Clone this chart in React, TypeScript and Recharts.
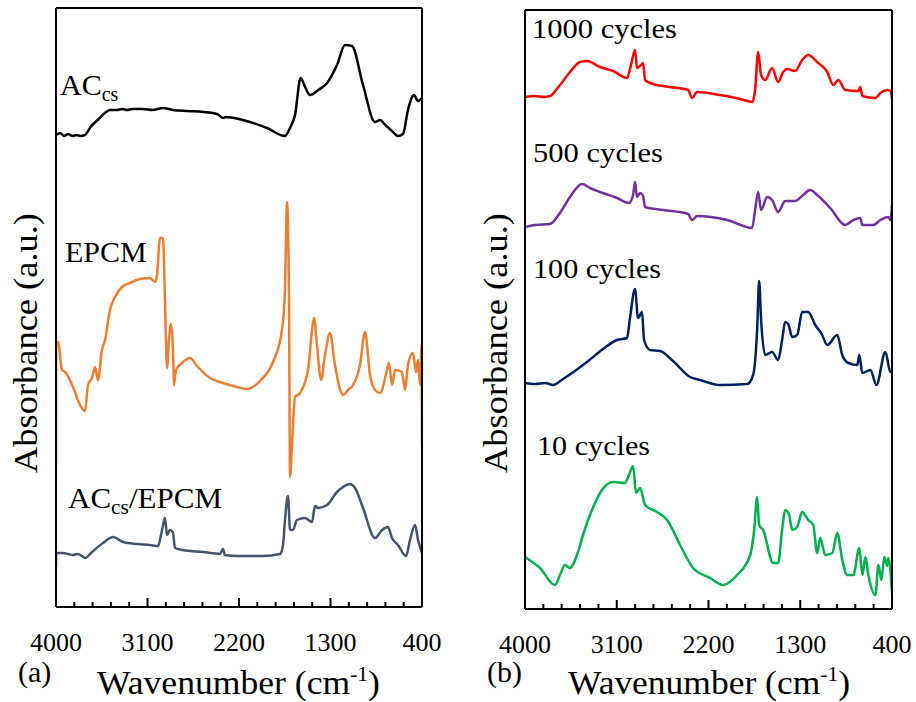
import { LineChart, Line, XAxis, YAxis, ReferenceLine } from "recharts";

type Pt = [number, number];

const serif = "'Times New Roman', 'Liberation Serif', 'DejaVu Serif', 'Noto Serif', serif";

const majorTicks = [4000, 3100, 2200, 1300, 400];
const minorTicks = [4000, 3820, 3640, 3460, 3280, 3100, 2920, 2740, 2560, 2380, 2200, 2020, 1840, 1660, 1480, 1300, 1120, 940, 760, 580, 400];

// panel (a) — wavenumber, absorbance (offset, a.u.)
const accs: Pt[] = [
  [4000, 472], [3960, 474], [3920, 471], [3880, 473], [3840, 471], [3800, 472], [3760, 471], [3715, 472],
  [3660, 480], [3580, 488], [3520, 494], [3469, 497], [3400, 497], [3350, 498], [3300, 497], [3250, 498],
  [3150, 498], [3050, 497], [2948, 499], [2850, 497], [2700, 496], [2550, 495], [2416, 493], [2357, 489],
  [2330, 490], [2200, 488], [2092, 485], [1925, 479], [1748, 471], [1698, 479], [1649, 492], [1594, 529],
  [1550, 520], [1502, 512], [1420, 517], [1334, 524], [1236, 542], [1157, 562], [1089, 561], [980, 522],
  [862, 485], [813, 487], [760, 482], [685, 475], [636, 471], [587, 473], [538, 497], [479, 512],
  [439, 506], [400, 509],
];

const epcm: Pt[] = [
  [4000, 127], [3998, 265], [3980, 265], [3941, 237], [3911, 235], [3833, 220], [3764, 202], [3715, 196],
  [3685, 222], [3646, 229], [3616, 240], [3587, 227], [3548, 257], [3518, 267], [3469, 297], [3420, 310],
  [3351, 320], [3272, 324], [3174, 328], [3075, 329], [3026, 325], [3006, 332], [2977, 369], [2948, 369],
  [2928, 307], [2908, 239], [2889, 267], [2869, 283], [2849, 257], [2839, 222], [2820, 237], [2761, 244],
  [2682, 249], [2613, 241], [2485, 229], [2357, 224], [2220, 220], [2121, 218], [1994, 226], [1866, 245],
  [1777, 277], [1748, 317], [1728, 405], [1708, 307], [1698, 130], [1680, 160], [1649, 210], [1600, 214],
  [1521, 237], [1482, 277], [1462, 289], [1433, 262], [1393, 227], [1354, 252], [1305, 274], [1256, 242],
  [1177, 212], [1128, 217], [1079, 222], [1010, 242], [961, 275], [911, 232], [862, 217], [813, 214],
  [744, 237], [725, 244], [695, 222], [665, 237], [597, 235], [567, 217], [538, 242], [489, 254],
  [459, 235], [439, 247], [420, 222], [404, 262], [400, 160],
];

const accsEpcm: Pt[] = [
  [4000, 40], [3998, 54], [3931, 54], [3880, 53], [3833, 52], [3790, 53], [3744, 51], [3715, 49],
  [3646, 55], [3538, 64], [3439, 70], [3341, 65], [3203, 63], [3075, 62], [2997, 61], [2957, 77],
  [2928, 89], [2908, 72], [2879, 77], [2849, 74], [2830, 59], [2751, 57], [2554, 55], [2387, 53],
  [2357, 58], [2338, 52], [2220, 51], [1964, 51], [1797, 53], [1767, 62], [1748, 87], [1718, 111],
  [1698, 77], [1669, 77], [1630, 87], [1551, 89], [1482, 85], [1452, 101], [1423, 99], [1334, 102],
  [1236, 115], [1177, 120], [1108, 123], [1059, 119], [980, 99], [862, 69], [793, 77], [734, 80],
  [695, 69], [636, 62], [557, 51], [518, 67], [469, 82], [439, 67], [400, 54],
];

// panel (b)
const cyc1000: Pt[] = [
  [4000, 512], [3900, 513], [3820, 512], [3755, 513], [3657, 524], [3559, 537], [3460, 547], [3392, 548],
  [3264, 542], [3137, 538], [2999, 531], [2960, 544], [2921, 559], [2901, 541], [2862, 544], [2842, 546],
  [2822, 529], [2744, 525], [2577, 522], [2400, 519], [2361, 511], [2312, 517], [2086, 514], [1889, 510],
  [1772, 507], [1743, 519], [1713, 557], [1684, 534], [1644, 529], [1576, 541], [1517, 527], [1468, 537],
  [1428, 540], [1350, 538], [1281, 549], [1222, 554], [1134, 547], [1035, 537], [976, 524], [927, 529],
  [858, 519], [730, 518], [711, 522], [691, 513], [563, 511], [514, 516], [446, 519], [416, 518], [400, 511],
];

const cyc500: Pt[] = [
  [4000, 382], [3900, 384], [3755, 385], [3657, 396], [3559, 412], [3441, 425], [3362, 421], [3235, 416],
  [3098, 411], [2980, 406], [2940, 414], [2921, 427], [2901, 412], [2872, 416], [2842, 413], [2822, 402],
  [2646, 399], [2400, 395], [2361, 389], [2312, 393], [2017, 389], [1772, 381], [1743, 399], [1713, 417],
  [1684, 399], [1625, 412], [1576, 409], [1517, 397], [1448, 408], [1350, 408], [1271, 414], [1203, 419],
  [1134, 414], [1006, 401], [858, 384], [779, 389], [711, 391], [691, 384], [583, 384], [514, 389],
  [436, 392], [416, 389], [400, 404],
];

const cyc100: Pt[] = [
  [4000, 226], [3900, 225], [3800, 226], [3725, 224], [3627, 230], [3510, 238], [3392, 247], [3235, 260],
  [3098, 269], [2999, 271], [2970, 291], [2921, 320], [2891, 291], [2852, 297], [2832, 269], [2773, 259],
  [2675, 258], [2548, 248], [2381, 232], [2282, 229], [2086, 224], [1821, 225], [1762, 234], [1723, 279],
  [1703, 328], [1684, 289], [1644, 254], [1576, 257], [1517, 249], [1478, 269], [1448, 287], [1419, 285],
  [1379, 272], [1330, 274], [1281, 297], [1222, 297], [1153, 284], [1085, 274], [1035, 264], [937, 274],
  [888, 254], [829, 246], [740, 244], [721, 254], [691, 236], [612, 239], [553, 224], [465, 257], [416, 237], [400, 237],
];

const cyc10: Pt[] = [
  [4000, 52], [3853, 41], [3706, 24], [3657, 34], [3608, 44], [3559, 41], [3490, 54], [3431, 74],
  [3343, 99], [3245, 119], [3137, 127], [3019, 126], [2980, 134], [2940, 143], [2911, 116], [2872, 121],
  [2822, 104], [2704, 97], [2606, 89], [2479, 64], [2351, 41], [2184, 31], [2057, 24], [1919, 34],
  [1791, 54], [1752, 79], [1723, 112], [1703, 84], [1664, 79], [1566, 46], [1517, 46], [1478, 79],
  [1448, 99], [1409, 94], [1379, 79], [1330, 82], [1281, 97], [1222, 89], [1173, 84], [1134, 56],
  [1104, 71], [1055, 54], [986, 56], [937, 76], [888, 49], [839, 34], [779, 34], [721, 61],
  [691, 34], [661, 52], [632, 34], [563, 14], [534, 44], [504, 29], [475, 52], [446, 43], [436, 51], [400, 16],
];

type Series = { name: string; color: string; pts: Pt[] };

const panelA: Series[] = [
  { name: "ACcs", color: "#000000", pts: accs },
  { name: "EPCM", color: "#ED7D31", pts: epcm },
  { name: "ACcs/EPCM", color: "#44546A", pts: accsEpcm },
];

const panelB: Series[] = [
  { name: "1000 cycles", color: "#FF0000", pts: cyc1000 },
  { name: "500 cycles", color: "#7030A0", pts: cyc500 },
  { name: "100 cycles", color: "#002060", pts: cyc100 },
  { name: "10 cycles", color: "#00B050", pts: cyc10 },
];

const frame = { stroke: "#000", strokeWidth: 2 };

function Panel({ series, width, margin }: { series: Series[]; width: number; margin: { top: number; right: number; bottom: number; left: number } }) {
  return (
    <LineChart width={width} height={702} margin={margin}>
      <XAxis xAxisId="wn" type="number" dataKey="wn" domain={[400, 4000]} reversed allowDataOverflow
        ticks={majorTicks} interval={0} tickSize={0} tickMargin={26} height={60}
        tickLine={false} axisLine={frame} tick={{ fill: "#000", fontSize: 26, style: { fontFamily: serif } }} />
      <XAxis xAxisId="top" orientation="top" type="number" domain={[400, 4000]} reversed mirror
        tick={false} tickLine={false} axisLine={frame} />
      <YAxis yAxisId="v" type="number" domain={[0, 599]} allowDataOverflow mirror tick={false} tickLine={false} axisLine={frame} />
      <YAxis yAxisId="r" orientation="right" type="number" domain={[0, 599]} mirror tick={false} tickLine={false} axisLine={frame} />
      {/* inward tick marks, longer at the labelled wavenumbers */}
      {minorTicks.map((wn) => (
        <ReferenceLine key={wn} xAxisId="wn" yAxisId="v" ifOverflow="visible"
          segment={[{ x: wn, y: 0 }, { x: wn, y: majorTicks.includes(wn) ? 9 : 5 }]}
          stroke="#000" strokeWidth={2} />
      ))}
      {series.map((s) => (
        <Line key={s.name} xAxisId="wn" yAxisId="v" type="monotone" name={s.name}
          data={s.pts.map(([wn, v]) => ({ wn, v }))} dataKey="v"
          stroke={s.color} strokeWidth={2.5} strokeLinejoin="round" dot={false} isAnimationActive={false} />
      ))}
    </LineChart>
  );
}

export default function App() {
  const t = { style: { fontFamily: serif }, fill: "#000" };
  return (
    <div style={{ position: "absolute", left: 0, top: 0, width: 916, height: 702, background: "#fff", fontFamily: serif }}>
      <div style={{ position: "absolute", left: 0, top: 0 }}>
        <Panel series={panelA} width={460} margin={{ top: 8, right: 38, bottom: 35, left: 56 }} />
      </div>
      <div style={{ position: "absolute", left: 460, top: 0 }}>
        <Panel series={panelB} width={456} margin={{ top: 10, right: 24, bottom: 33, left: 65 }} />
      </div>
      <svg width={916} height={702} style={{ position: "absolute", left: 0, top: 0, pointerEvents: "none" }}>
        <text {...t} fontSize={33} textAnchor="middle" transform="translate(37,343) rotate(-90)" textLength={260} lengthAdjust="spacingAndGlyphs">Absorbance (a.u.)</text>
        <text {...t} fontSize={33} textAnchor="middle" transform="translate(507,343) rotate(-90)" textLength={260} lengthAdjust="spacingAndGlyphs">Absorbance (a.u.)</text>

        <text {...t} fontSize={33} x={97} y={694} textLength={283} lengthAdjust="spacingAndGlyphs">
          Wavenumber (cm<tspan fontSize={20} dy={-13}>-1</tspan><tspan dy={13}>)</tspan>
        </text>
        <text {...t} fontSize={33} x={568} y={694} textLength={282} lengthAdjust="spacingAndGlyphs">
          Wavenumber (cm<tspan fontSize={20} dy={-13}>-1</tspan><tspan dy={13}>)</tspan>
        </text>
        <text {...t} fontSize={30} x={18} y={682}>(a)</text>
        <text {...t} fontSize={30} x={487} y={682}>(b)</text>

        <text {...t} fontSize={30} x={60} y={95}>AC<tspan fontSize={20} dy={6}>cs</tspan></text>
        <text {...t} fontSize={30} x={65} y={262}>EPCM</text>
        <text {...t} fontSize={29} x={68} y={508} textLength={154} lengthAdjust="spacingAndGlyphs">
          AC<tspan fontSize={20} dy={6}>cs</tspan><tspan dy={-6}>/EPCM</tspan>
        </text>

        <text {...t} fontSize={28} x={532} y={38} textLength={145} lengthAdjust="spacingAndGlyphs">1000 cycles</text>
        <text {...t} fontSize={28} x={533} y={162} textLength={130} lengthAdjust="spacingAndGlyphs">500 cycles</text>
        <text {...t} fontSize={28} x={533} y={278} textLength={128} lengthAdjust="spacingAndGlyphs">100 cycles</text>
        <text {...t} fontSize={28} x={537} y={455} textLength={113} lengthAdjust="spacingAndGlyphs">10 cycles</text>
      </svg>
    </div>
  );
}
